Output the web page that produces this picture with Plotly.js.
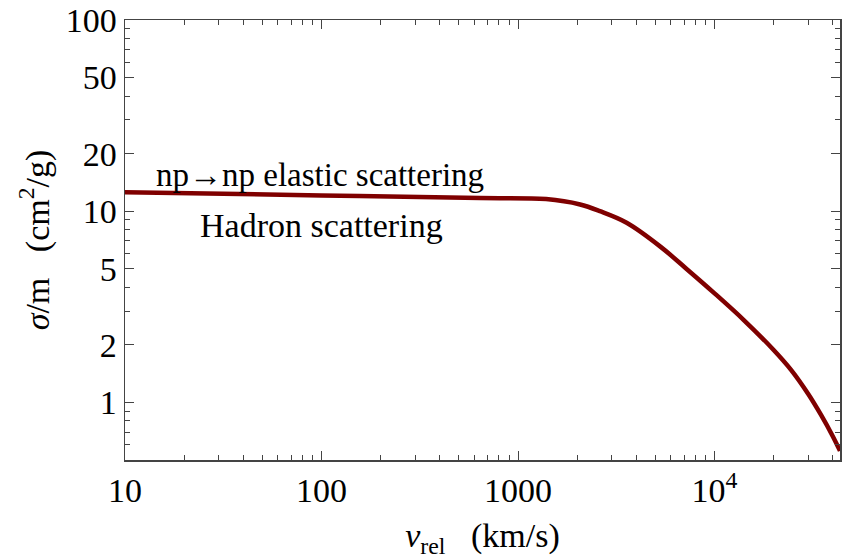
<!DOCTYPE html>
<html>
<head>
<meta charset="utf-8">
<script src="https://cdn.plot.ly/plotly-3.0.1.min.js"></script>
<style>html,body{margin:0;padding:0;background:#fff;}#chart{width:846px;height:559px;}</style>
</head>
<body>
<div id="chart"></div>
<script>
// Relative velocity (km/s)
const vrel = [10, 100, 640, 1390, 2070, 2610, 3570, 5280, 7160, 10000, 14130, 19990, 24510, 29920, 34830, 39900, 43500];
// sigma/m (cm^2/g)
const sigmaOverM = [12.56, 12.10, 11.72, 11.57, 10.84, 10.0, 8.70, 6.55, 5.02, 3.72, 2.69, 1.88, 1.48, 1.11, 0.86, 0.668, 0.558];

const xTickVals = [10, 100, 1000, 10000];
const xTickText = ["10", "100", "1000", "10<sup>4</sup>"];
const yTickVals = [1, 2, 5, 10, 20, 50, 100];
const yTickText = ["1", "2", "5", "10", "20", "50", "100"];
const xMinorVals = [20,30,40,50,60,70,80,90,200,300,400,500,600,700,800,900,2000,3000,4000,5000,6000,7000,8000,9000,20000,30000,40000];
const yMinorVals = [0.6,0.7,0.8,0.9,3,4,6,7,8,9,30,40,60,70,80,90];

const labelMain = "np→np elastic scattering";
const labelSub = "Hadron scattering";

const serif = "'Liberation Serif', 'Times New Roman', serif";
const axisColor = "#444";

const trace = {
  x: vrel, y: sigmaOverM, type: "scatter", mode: "lines",
  line: {color: "#7f0000", width: 4.5, shape: "spline", smoothing: 1},
  hoverinfo: "skip", showlegend: false
};

const layout = {
  width: 846, height: 559,
  margin: {l: 125, r: 6, t: 20, b: 99},
  paper_bgcolor: "#fff", plot_bgcolor: "#fff",
  font: {family: serif, color: "#000", size: 34},
  xaxis: {
    type: "log", range: [1, Math.log10(43500)],
    tickmode: "array", tickvals: xTickVals, ticktext: xTickText,
    ticks: "inside", ticklen: 9, tickwidth: 1, tickcolor: axisColor,
    minor: {tickmode: "array", tickvals: xMinorVals, ticks: "inside", ticklen: 5, tickwidth: 1, tickcolor: axisColor, showgrid: false},
    showline: true, linecolor: axisColor, linewidth: 1.5, mirror: "allticks",
    showgrid: false, zeroline: false,
    tickfont: {family: serif, size: 34, color: "#000"},
    title: {text: "<i>v</i><sub>rel</sub>   (km/s)", font: {family: serif, size: 34, color: "#000"}, standoff: 16},
    automargin: false
  },
  yaxis: {
    type: "log", range: [Math.log10(0.5), 2],
    tickmode: "array", tickvals: yTickVals, ticktext: yTickText,
    ticks: "inside", ticklen: 9, tickwidth: 1, tickcolor: axisColor,
    minor: {tickmode: "array", tickvals: yMinorVals, ticks: "inside", ticklen: 5, tickwidth: 1, tickcolor: axisColor, showgrid: false},
    showline: true, linecolor: axisColor, linewidth: 1.5, mirror: "allticks",
    showgrid: false, zeroline: false,
    tickfont: {family: serif, size: 34, color: "#000"},
    title: {text: "<i>σ</i>/m   (cm<sup>2</sup>/g)", font: {family: serif, size: 34, color: "#000"}, standoff: 6},
    automargin: false
  },
  annotations: [
    {text: labelMain, xref: "paper", yref: "paper", x: 0.2727, y: 0.648, xanchor: "center", yanchor: "middle", showarrow: false, font: {family: serif, size: 33, color: "#000"}},
    {text: labelSub, xref: "paper", yref: "paper", x: 0.275, y: 0.534, xanchor: "center", yanchor: "middle", showarrow: false, font: {family: serif, size: 34, color: "#000"}}
  ]
};

Plotly.newPlot("chart", [trace], layout, {displayModeBar: false, staticPlot: true});
</script>
</body>
</html>
